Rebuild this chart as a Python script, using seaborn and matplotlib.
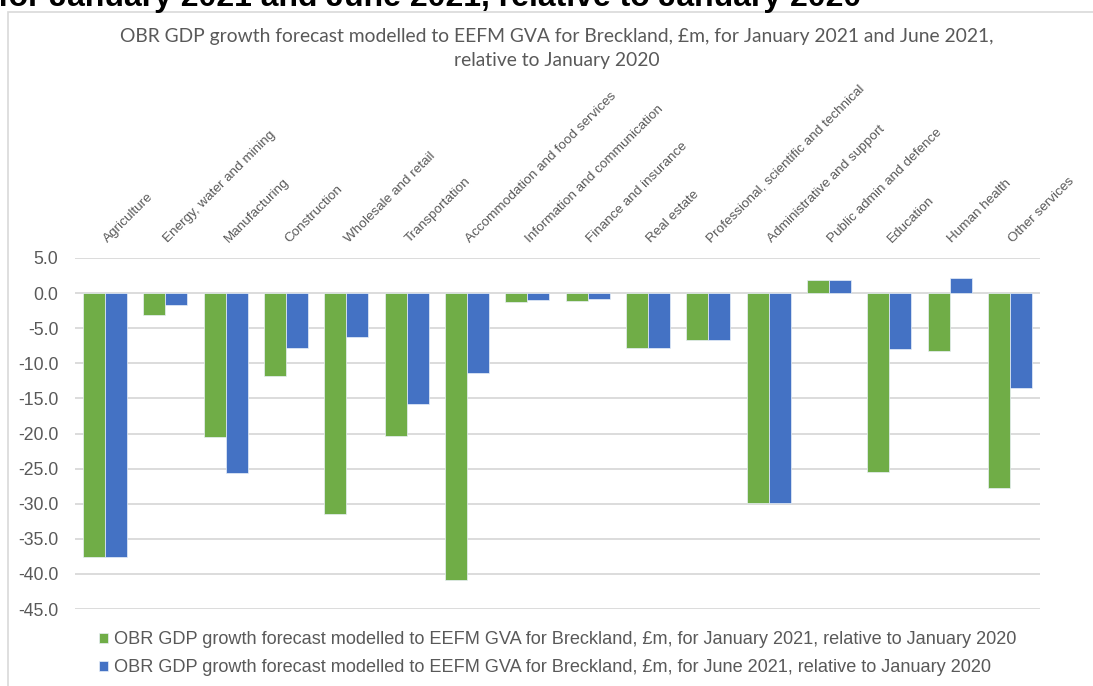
import matplotlib
matplotlib.use("Agg")
import matplotlib.pyplot as plt
from matplotlib.patches import Rectangle
from matplotlib.transforms import ScaledTranslation
import pandas as pd
import seaborn as sns

sectors = [
    "Agriculture", "Energy, water and mining", "Manufacturing", "Construction",
    "Wholesale and retail", "Transportation", "Accommodation and food services",
    "Information and communication", "Finance and insurance", "Real estate",
    "Professional, scientific and technical", "Administrative and support",
    "Public admin and defence", "Education", "Human health", "Other services",
]
jan_2021 = [-37.6, -3.1, -20.5, -11.8, -31.5, -20.3, -40.8, -1.3,
            -1.1, -7.8, -6.7, -29.9, 1.9, -25.5, -8.2, -27.7]
jun_2021 = [-37.6, -1.7, -25.6, -7.8, -6.3, -15.8, -11.4, -1.0,
            -0.8, -7.8, -6.7, -29.9, 1.9, -8.0, 2.1, -13.5]
series_names = [
    "OBR GDP growth forecast modelled to EEFM GVA for Breckland, £m, for January 2021, relative to January 2020",
    "OBR GDP growth forecast modelled to EEFM GVA for Breckland, £m, for June 2021, relative to January 2020",
]
y_ticks = [5.0, 0.0, -5.0, -10.0, -15.0, -20.0, -25.0, -30.0, -35.0, -40.0, -45.0]

heading = "for January 2021 and June 2021, relative to January 2020"
title = ("OBR GDP growth forecast modelled to EEFM GVA for Breckland, £m, for January 2021 and June 2021,\n"
         "relative to January 2020")

df = pd.DataFrame({
    "sector": sectors * 2,
    "value": jan_2021 + jun_2021,
    "series": [series_names[0]] * len(sectors) + [series_names[1]] * len(sectors),
})

sns.set_theme(style="white")
plt.rcParams["font.family"] = ["Liberation Sans", "DejaVu Sans"]

W, H = 1093, 686
fig = plt.figure(figsize=(W / 100, H / 100), dpi=100)
ax = fig.add_axes([75 / W, 1 - 609 / H, (1040 - 75) / W, (609 - 258) / H])

green, blue = "#70AD47", "#4472C4"
sns.barplot(data=df, x="sector", y="value", hue="series", order=sectors,
            hue_order=series_names, palette=[green, blue], saturation=1,
            width=0.73, edgecolor="#e8f0f8", linewidth=0.5, ax=ax, legend=True)

ax.set_ylim(-45, 5)
ax.set_yticks(y_ticks)
ax.set_yticklabels([f"{v:.1f}" for v in y_ticks], fontsize=12.7, color="#595959")
ax.set_xlim(-0.5, len(sectors) - 0.5)
ax.grid(axis="y", color="#d9d9d9", linewidth=1.3)
ax.set_axisbelow(True)
for s in ax.spines.values():
    s.set_visible(False)
ax.set_xlabel("")
ax.set_ylabel("")

# category labels sit along the top of the plot area
ax.xaxis.set_ticks_position("top")
ax.tick_params(axis="x", length=0, pad=9)
ax.tick_params(axis="y", length=0, pad=12)
ax.set_xticks(range(len(sectors)))
ax.set_xticklabels(sectors, rotation=45, ha="left", va="bottom",
                   rotation_mode="anchor", fontsize=9.7, color="#595959")
shift = ScaledTranslation(5 / 100, 0, fig.dpi_scale_trans)
for lbl in ax.get_xticklabels():
    lbl.set_transform(lbl.get_transform() + shift)

# legend below the plot
handles, labels = ax.get_legend_handles_labels()
ax.get_legend().remove()
fig.legend(handles, labels, loc="upper left", bbox_to_anchor=(92 / W, 1 - 624 / H),
           frameon=False, fontsize=13.1, labelcolor="#595959",
           handlelength=0.5, handleheight=0.5, handletextpad=0.3,
           labelspacing=0.6, borderaxespad=0)

# chart frame
fig.add_artist(Rectangle((8 / W, -0.01), 1.1, 1 - 12 / H + 0.01, transform=fig.transFigure,
                         fill=False, edgecolor="#d9d9d9", linewidth=1.2))

fig.text(557 / W, 1 - 28 / H, title, ha="center", va="top", fontsize=13.85,
         color="#595959", family=["Lato", "DejaVu Sans"], linespacing=1.5)

fig.text(-2 / W, 1 - 6 / H, heading, ha="left", va="baseline", fontsize=23,
         fontweight="bold", color="black")

fig.savefig("out.png", dpi=100)
